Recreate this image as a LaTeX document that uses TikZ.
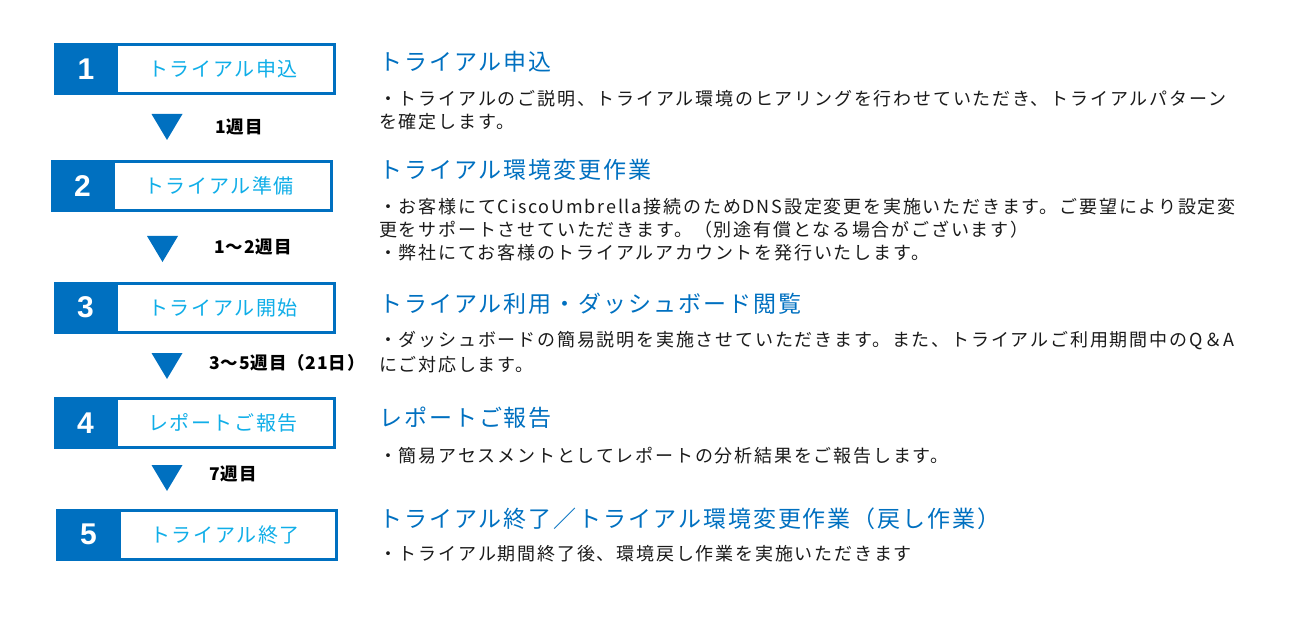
\documentclass[tikz,border=0pt]{standalone}
\usepackage{fontspec}
\setmainfont{Noto Sans CJK JP}
\newfontfamily\bodyfont[LetterSpace=10]{Noto Sans CJK JP}
\newfontfamily\headfont[LetterSpace=8.5]{Noto Sans CJK JP}
\newfontfamily\labfont[LetterSpace=8]{Noto Sans CJK JP}
\newfontfamily\wkfont[LetterSpace=5]{Noto Sans CJK JP}
\newfontfamily\numfont{Liberation Sans}
\definecolor{mainblue}{HTML}{0070C0}
\definecolor{labcyan}{HTML}{10AEE8}
\definecolor{bodyblack}{HTML}{1A1A1A}
\tikzset{
  frame/.style={draw=mainblue, line width=3pt, fill=white, minimum width=279pt, minimum height=49pt, inner sep=0pt},
  numbox/.style={fill=mainblue, minimum width=64pt, minimum height=52pt, inner sep=0pt, text=white, font=\numfont\bfseries\fontsize{30}{30}\selectfont},
  label/.style={text=labcyan, inner sep=0pt, font=\labfont\fontsize{20}{23}\selectfont},
  wk/.style={anchor=west, inner sep=0pt, text=black, font=\wkfont\bfseries\fontsize{17.5}{20}\selectfont},
  head/.style={anchor=west, inner sep=0pt, text=mainblue, font=\headfont\fontsize{23}{27}\selectfont},
  body/.style={anchor=west, inner sep=0pt, text=bodyblack, font=\bodyfont\fontsize{18}{21}\selectfont},
  tri/.style={fill=mainblue}
}
\begin{document}
\begin{tikzpicture}[x=1pt, y=-1pt]
\useasboundingbox (0,0) rectangle (1300,620);
% boxes
\node[frame] (f1) at (195,69) {};
\node[numbox] (n1) at (86,69) {1};
\node[label] (l1) at (223,69) {トライアル申込};
\node[frame] (f2) at (191.5,186) {};
\node[numbox] (n2) at (82.5,186) {2};
\node[label] (l2) at (219,186) {トライアル準備};
\node[frame] (f3) at (194.5,307.5) {};
\node[numbox] (n3) at (85.5,307.5) {3};
\node[label] (l3) at (223,307.5) {トライアル開始};
\node[frame] (f4) at (194.5,423) {};
\node[numbox] (n4) at (85.5,423) {4};
\node[label] (l4) at (223,423) {レポートご報告};
\node[frame] (f5) at (197,534.5) {};
\node[numbox] (n5) at (88.5,534.5) {5};
\node[label] (l5) at (225,534.5) {トライアル終了};
% triangles
\coordinate (t1) at (167,114);
\coordinate (t2) at (162.5,236);
\coordinate (t3) at (167,353);
\coordinate (t4) at (167,465);
\foreach \t in {t1,t2,t3,t4}
  \fill[tri] (\t) ++(-15.5,0) -- ++(31,0) -- ++(-15.5,26) -- cycle;
% week labels
\node[wk] (w1) at (215,127) {1週目};
\node[wk] (w2) at (214,247) {1～2週目};
\node[wk] (w3) at (209,363) {3～5週目（21日）};
\node[wk] (w4) at (209,474) {7週目};
% headings
\node[head] (h1) at (379,62) {トライアル申込};
\node[head] (h2) at (379,170) {トライアル環境変更作業};
\node[head] (h3) at (379,304) {トライアル利用・ダッシュボード閲覧};
\node[head] (h4) at (379,418) {レポートご報告};
\node[head] (h5) at (379,519) {トライアル終了／トライアル環境変更作業（戻し作業）};
% body
\node[body] (b11) at (379,99) {・トライアルのご説明、トライアル環境のヒアリングを行わせていただき、トライアルパターン};
\node[body] (b12) at (379,122) {を確定します。};
\node[body] (b21) at (379,207) {・お客様にてCiscoUmbrella接続のためDNS設定変更を実施いただきます。ご要望により設定変};
\node[body] (b22) at (379,230) {更をサポートさせていただきます。（別途有償となる場合がございます）};
\node[body] (b23) at (379,253) {・弊社にてお客様のトライアルアカウントを発行いたします。};
\node[body] (b31) at (379,341) {・ダッシュボードの簡易説明を実施させていただきます。また、トライアルご利用期間中のQ＆A};
\node[body] (b32) at (379,365) {にご対応します。};
\node[body] (b41) at (379,456) {・簡易アセスメントとしてレポートの分析結果をご報告します。};
\node[body] (b51) at (379,554) {・トライアル期間終了後、環境戻し作業を実施いただきます};
\end{tikzpicture}
\end{document}
